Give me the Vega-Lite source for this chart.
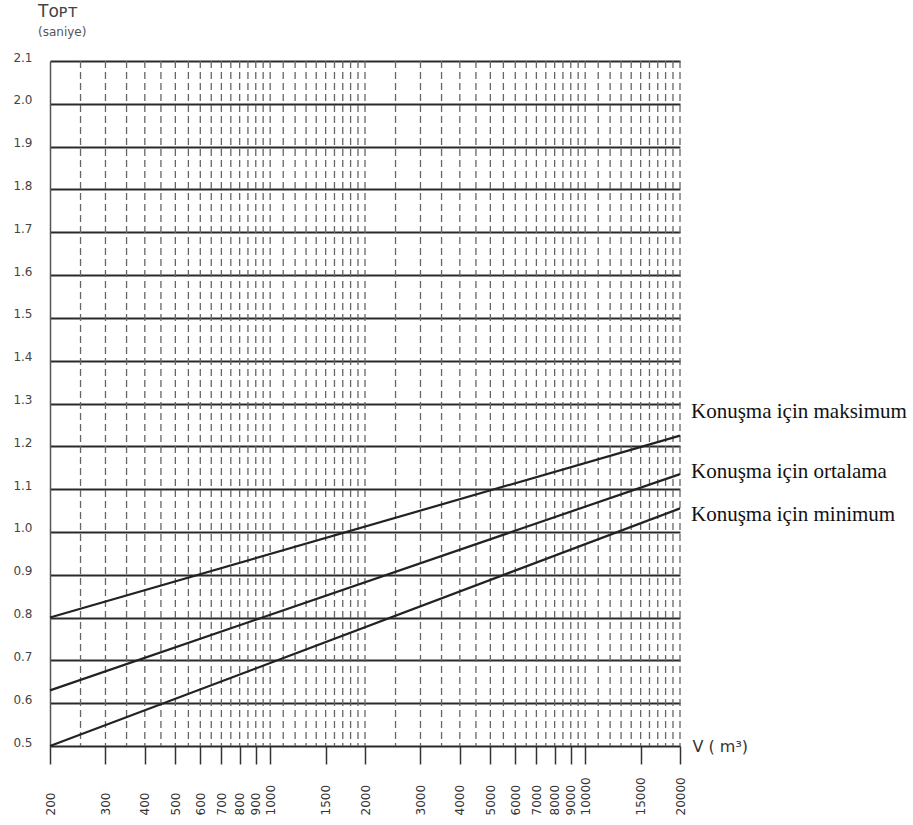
{
  "$schema": "https://vega.github.io/schema/vega-lite/v6.json",
  "autosize": {"type": "none"},
  "padding": {"left": 50, "top": 61, "right": 233, "bottom": 79},
  "width": 630,
  "height": 685,
  "background": "white",
  "config": {"view": {"stroke": null}, "font": "DejaVu Sans"},
  "title": {
    "text": "Tᴏᴘᴛ",
    "subtitle": "(saniye)",
    "anchor": "start",
    "frame": "group",
    "dx": -12,
    "offset": 12,
    "fontSize": 17,
    "fontWeight": "normal",
    "color": "#444",
    "subtitleFontSize": 12,
    "subtitleColor": "#555",
    "subtitlePadding": 6
  },
  "datasets": {
    "vgrid": [
      {"V": 250}, {"V": 300}, {"V": 350}, {"V": 400}, {"V": 450}, {"V": 500}, {"V": 550}, {"V": 600}, {"V": 650}, {"V": 700}, {"V": 750}, {"V": 800}, {"V": 850}, {"V": 900}, {"V": 950},
      {"V": 1000}, {"V": 1100}, {"V": 1200}, {"V": 1300}, {"V": 1400}, {"V": 1500}, {"V": 1600}, {"V": 1700}, {"V": 1800}, {"V": 1900},
      {"V": 2000}, {"V": 2500}, {"V": 3000}, {"V": 3500}, {"V": 4000}, {"V": 4500}, {"V": 5000}, {"V": 5500}, {"V": 6000}, {"V": 6500}, {"V": 7000}, {"V": 7500}, {"V": 8000}, {"V": 8500}, {"V": 9000}, {"V": 9500},
      {"V": 10000}, {"V": 11000}, {"V": 12000}, {"V": 13000}, {"V": 14000}, {"V": 15000}, {"V": 16000}, {"V": 17000}, {"V": 18000}, {"V": 19000}, {"V": 20000}
    ],
    "curves": [
      {"seri": "maksimum", "V": 200, "T": 0.80},
      {"seri": "maksimum", "V": 20000, "T": 1.225},
      {"seri": "ortalama", "V": 200, "T": 0.63},
      {"seri": "ortalama", "V": 20000, "T": 1.135},
      {"seri": "minimum", "V": 200, "T": 0.50},
      {"seri": "minimum", "V": 20000, "T": 1.055}
    ],
    "labels": [
      {"label": "Konuşma için maksimum", "V": 20000, "T": 1.28},
      {"label": "Konuşma için ortalama", "V": 20000, "T": 1.14},
      {"label": "Konuşma için minimum", "V": 20000, "T": 1.04}
    ]
  },
  "layer": [
    {
      "data": {"name": "vgrid"},
      "mark": {"type": "rule", "color": "#666", "strokeWidth": 1.3, "strokeDash": [7, 4]},
      "encoding": {
        "x": {
          "field": "V",
          "type": "quantitative",
          "scale": {"type": "log", "domain": [200, 20000], "nice": false},
          "axis": {
            "values": [200, 300, 400, 500, 600, 700, 800, 900, 1000, 1500, 2000, 3000, 4000, 5000, 6000, 7000, 8000, 9000, 10000, 15000, 20000],
            "format": "d",
            "labelAngle": 270,
            "labelAlign": "left",
            "labelBaseline": "middle",
            "labelPadding": 51,
            "labelFontSize": 12,
            "labelColor": "#333",
            "labelFlush": false,
            "labelOverlap": false,
            "tickSize": 18,
            "tickColor": "#333",
            "tickWidth": 1.5,
            "domain": false,
            "grid": false,
            "title": "V ( m³)",
            "titleX": 642,
            "titleY": 0,
            "titleAlign": "left",
            "titleBaseline": "middle",
            "titleFontSize": 16,
            "titleFontWeight": "normal",
            "titleColor": "#333"
          }
        }
      }
    },
    {
      "data": {"name": "curves"},
      "mark": {"type": "line", "color": "#222", "strokeWidth": 2.2},
      "encoding": {
        "x": {"field": "V", "type": "quantitative"},
        "y": {
          "field": "T",
          "type": "quantitative",
          "scale": {"domain": [0.5, 2.1], "nice": false, "zero": false},
          "axis": {
            "values": [0.5, 0.6, 0.7, 0.8, 0.9, 1.0, 1.1, 1.2, 1.3, 1.4, 1.5, 1.6, 1.7, 1.8, 1.9, 2.0, 2.1],
            "format": ".1f",
            "grid": true,
            "gridColor": "#2a2a2a",
            "gridWidth": 2,
            "ticks": false,
            "domain": true,
            "domainColor": "#555",
            "domainWidth": 1.5,
            "labelFontSize": 12,
            "labelColor": "#444",
            "labelPadding": 18,
            "labelOffset": -4,
            "title": null
          }
        },
        "detail": {"field": "seri"}
      }
    },
    {
      "data": {"name": "labels"},
      "mark": {"type": "text", "align": "left", "baseline": "middle", "dx": 11, "font": "Liberation Serif", "fontSize": 21, "color": "#111"},
      "encoding": {
        "x": {"field": "V", "type": "quantitative"},
        "y": {"field": "T", "type": "quantitative"},
        "text": {"field": "label"}
      }
    }
  ]
}
